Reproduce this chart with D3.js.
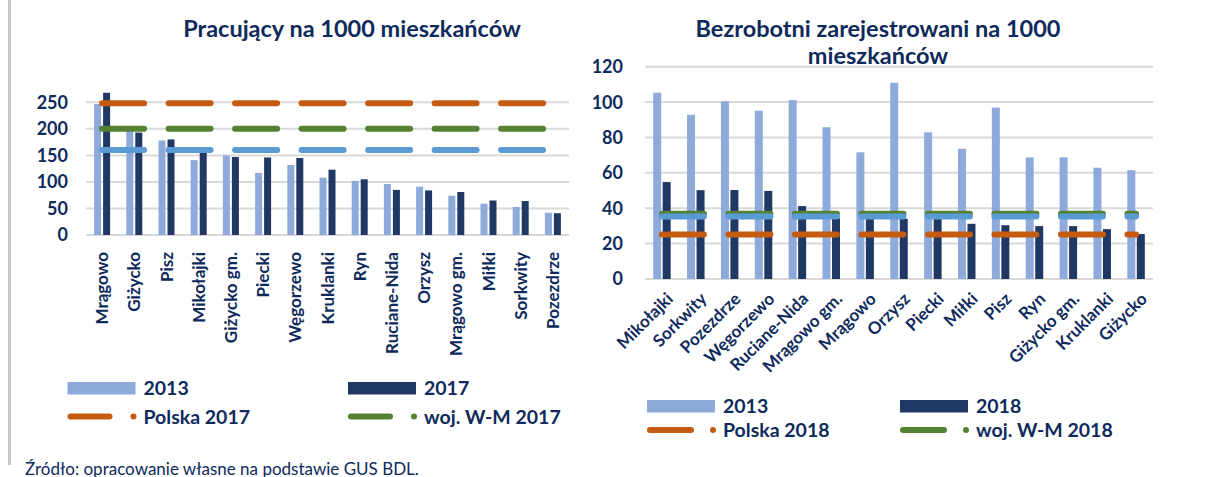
<!DOCTYPE html>
<html>
<head>
<meta charset="utf-8">
<script src="https://cdn.jsdelivr.net/npm/d3@7"></script>
<style>
  body { margin: 0; background: #fff; }
  svg { display: block; font-family: Lato, "Open Sans", sans-serif; }
</style>
</head>
<body>
<div id="chart"></div>
<script>
// left panel: employed per 1000 residents
const catsWork = ["Mrągowo", "Giżycko", "Pisz", "Mikołajki", "Giżycko gm.", "Piecki", "Węgorzewo",
  "Kruklanki", "Ryn", "Ruciane-Nida", "Orzysz", "Mrągowo gm.", "Miłki", "Sorkwity", "Pozezdrze"];
const work2013 = [247, 199, 178, 141, 150, 117, 132, 108, 102, 96, 91, 74, 59, 53, 42];
const work2017 = [268, 193, 180, 156, 147, 146, 145, 123, 105, 85, 84, 81, 65, 64, 41];
const workPolska = 248;
const workWM = 200;
const workBlue = 160;
const workTicks = [0, 50, 100, 150, 200, 250];

// right panel: registered unemployed per 1000 residents
const catsUnemp = ["Mikołajki", "Sorkwity", "Pozezdrze", "Węgorzewo", "Ruciane-Nida", "Mrągowo gm.",
  "Mrągowo", "Orzysz", "Piecki", "Miłki", "Pisz", "Ryn", "Giżycko gm.", "Kruklanki", "Giżycko"];
const unemp2013 = [105.3, 92.8, 100.4, 95.1, 101.1, 85.8, 71.6, 110.9, 82.9, 73.6, 96.9, 68.7, 68.8, 62.9, 61.5];
const unemp2018 = [54.8, 50.2, 50.3, 49.8, 41.2, 34.4, 35, 34, 35, 31.2, 30.4, 29.9, 29.9, 28.2, 25.4];
const unempPolska = 25.1;
const unempWM = 36.9;
const unempBlue = 35.3;
const unempTicks = [0, 20, 40, 60, 80, 100, 120];

const navy = "#0e2a5c";
const colLight = "#8eaadb";
const colDark = "#203864";
const colOrange = "#c55a11";
const colGreen = "#548235";
const colBlue = "#5b9bd5";

const W = 1224, H = 477;
const svg = d3.select("#chart").append("svg")
  .attr("width", W).attr("height", H)
  .attr("viewBox", [0, 0, W, H]);

// grey rule on the left edge
svg.append("line")
  .attr("x1", 9.5).attr("x2", 9.5).attr("y1", 0).attr("y2", 465)
  .attr("stroke", "#c8c8c8").attr("stroke-width", 3);

function drawPanel(p) {
  const g = svg.append("g");

  const x = d3.scaleBand().domain(p.cats).range([p.left, p.right]);
  const y = d3.scaleLinear().domain([0, p.ticks[p.ticks.length - 1]]).range([p.bottom, p.top]);

  // gridlines
  g.selectAll(".grid").data(p.ticks).join("line")
    .attr("x1", p.left).attr("x2", p.right)
    .attr("y1", d => y(d)).attr("y2", d => y(d))
    .attr("stroke", "#d9d9d9").attr("stroke-width", 2);

  // y tick labels
  g.selectAll(".ytick").data(p.ticks).join("text")
    .attr("x", p.tickX).attr("y", d => y(d)).attr("dy", "0.36em")
    .attr("text-anchor", "end")
    .attr("font-size", 18).attr("font-weight", "bold").attr("fill", navy)
    .text(d => d);

  const pairW = 2 * p.barW + p.barGap;
  const off = (x.bandwidth() - pairW) / 2;

  g.selectAll(".b1").data(p.cats).join("rect")
    .attr("x", d => x(d) + off)
    .attr("width", p.barW)
    .attr("y", (d, i) => y(p.s1[i]))
    .attr("height", (d, i) => y(0) - y(p.s1[i]))
    .attr("fill", colLight);

  g.selectAll(".b2").data(p.cats).join("rect")
    .attr("x", d => x(d) + off + p.barW + p.barGap)
    .attr("width", p.barW)
    .attr("y", (d, i) => y(p.s2[i]))
    .attr("height", (d, i) => y(0) - y(p.s2[i]))
    .attr("fill", colDark);

  // dashed reference lines across category centres
  const cx0 = x(p.cats[0]) + x.bandwidth() / 2;
  const cx1 = x(p.cats[p.cats.length - 1]) + x.bandwidth() / 2;
  [[p.polska, colOrange], [p.wm, colGreen], [p.blue, colBlue]].forEach(([v, c]) => {
    g.append("line")
      .attr("x1", cx0).attr("x2", cx1)
      .attr("y1", y(v)).attr("y2", y(v))
      .attr("stroke", c).attr("stroke-width", 6)
      .attr("stroke-linecap", "round")
      .attr("stroke-dasharray", "42 24.5");
  });

  // category labels
  g.selectAll(".xlab").data(p.cats).join("text")
    .attr("transform", d => `translate(${x(d) + x.bandwidth() / 2 + p.labDx},${p.labY}) rotate(${p.labRot})`)
    .attr("dy", p.labDy)
    .attr("text-anchor", "end")
    .attr("font-size", 17).attr("font-weight", "bold").attr("fill", navy)
    .text(d => d);

  // titles
  p.title.forEach((t, i) => {
    g.append("text")
      .attr("x", p.titleX).attr("y", 37 + i * 27)
      .attr("text-anchor", "middle")
      .attr("font-size", 23.5).attr("font-weight", "bold").attr("fill", navy)
      .text(t);
  });

  // legend
  const L = p.legend;
  const lg = g.append("g").attr("font-size", 19.5).attr("font-weight", "bold").attr("fill", navy);
  L.cols.forEach((lx, j) => {
    lg.append("rect")
      .attr("x", lx).attr("y", L.row1 - 6).attr("width", L.rectW).attr("height", 12.5)
      .attr("fill", j === 0 ? colLight : colDark);
    lg.append("text")
      .attr("x", lx + L.textDx).attr("y", L.row1).attr("dy", "0.36em")
      .text(L.labels1[j]);
    const c = j === 0 ? colOrange : colGreen;
    lg.append("line")
      .attr("x1", lx + 3).attr("x2", lx + L.lineW - 3)
      .attr("y1", L.row2).attr("y2", L.row2)
      .attr("stroke", c).attr("stroke-width", 6).attr("stroke-linecap", "round");
    lg.append("circle")
      .attr("cx", lx + L.textDx - 10).attr("cy", L.row2).attr("r", 3)
      .attr("fill", c);
    lg.append("text")
      .attr("x", lx + L.textDx).attr("y", L.row2).attr("dy", "0.36em")
      .text(L.labels2[j]);
  });
}

drawPanel({
  cats: catsWork, s1: work2013, s2: work2017, ticks: workTicks,
  polska: workPolska, wm: workWM, blue: workBlue,
  left: 86, right: 569, top: 102.3, bottom: 235, tickX: 68,
  barW: 7, barGap: 2,
  labY: 252, labDx: 0, labRot: -90, labDy: "0.36em",
  title: ["Pracujący na 1000 mieszkańców"], titleX: 352,
  legend: { cols: [67.5, 348], row1: 388, row2: 416.5, rectW: 68, lineW: 45, textDx: 76,
    labels1: ["2013", "2017"], labels2: ["Polska 2017", "woj. W-M 2017"] }
});

drawPanel({
  cats: catsUnemp, s1: unemp2013, s2: unemp2018, ticks: unempTicks,
  polska: unempPolska, wm: unempWM, blue: unempBlue,
  left: 645, right: 1153, top: 66.7, bottom: 279, tickX: 623,
  barW: 8, barGap: 1.5,
  labY: 294, labDx: 6, labRot: -45, labDy: "0.5em",
  title: ["Bezrobotni zarejestrowani na 1000", "mieszkańców"], titleX: 878,
  legend: { cols: [647, 900], row1: 406, row2: 430, rectW: 68, lineW: 47, textDx: 76,
    labels1: ["2013", "2018"], labels2: ["Polska 2018", "woj. W-M 2018"] }
});

svg.append("text")
  .attr("x", 25).attr("y", 475)
  .attr("font-size", 17).attr("fill", navy)
  .text("Źródło: opracowanie własne na podstawie GUS BDL.");
</script>
</body>
</html>
